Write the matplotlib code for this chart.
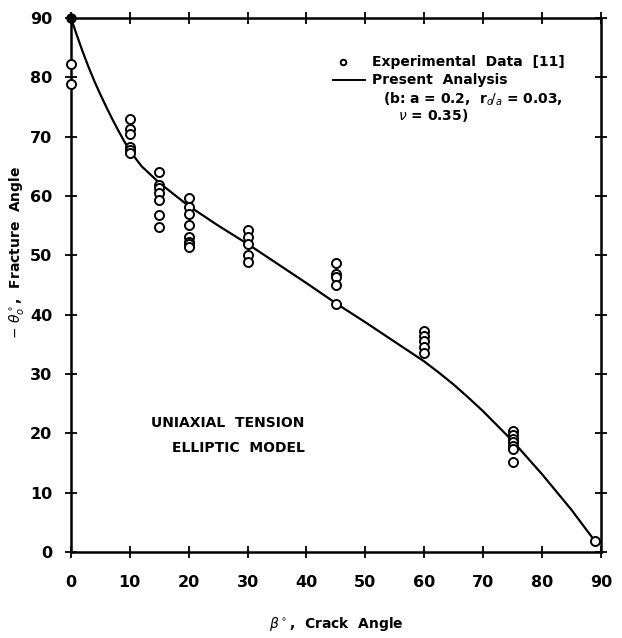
import matplotlib
matplotlib.use("Agg")
import matplotlib.pyplot as plt

# experimental data: crack angle beta (deg) and fracture angle -theta_o (deg)
beta_exp = [0, 0,
            10, 10, 10, 10, 10, 10,
            15, 15, 15, 15, 15, 15, 15,
            20, 20, 20, 20, 20, 20, 20, 20,
            30, 30, 30, 30, 30,
            45, 45, 45, 45, 45,
            60, 60, 60, 60, 60,
            75, 75, 75, 75, 75, 75, 75,
            89]
theta_exp = [82.2, 78.9,
             73.0, 71.2, 70.5, 68.3, 67.8, 67.3,
             64.1, 61.9, 61.3, 60.5, 59.3, 56.7, 54.7,
             59.6, 58.2, 56.9, 55.1, 53.1, 52.3, 51.9, 51.3,
             54.2, 53.1, 51.9, 50.1, 48.9,
             48.7, 46.9, 46.4, 44.9, 41.8,
             37.3, 36.3, 35.5, 34.6, 33.5,
             20.3, 19.7, 19.1, 18.5, 17.9, 17.4, 15.1,
             1.8]

# present analysis curve
beta_curve = [0, 1, 2, 3, 4, 5, 6, 7, 8, 9, 10, 12, 15, 20, 25, 30, 35, 40,
              45, 50, 55, 60, 62.5, 65, 67.5, 70, 75, 80, 85, 89]
theta_curve = [90, 87.1, 84.3, 81.7, 79.3, 77.1, 75.0, 73.0, 71.1, 69.3, 67.6,
               65.0, 62.2, 58.3, 55.0, 51.9, 48.6, 45.3, 41.9, 38.7, 35.4,
               32.1, 30.2, 28.2, 26.0, 23.7, 18.7, 13.1, 7.1, 1.8]

ticks = list(range(0, 91, 10))

plt.rcParams["font.family"] = ["DejaVu Sans"]
plt.rcParams["mathtext.fontset"] = "dejavusans"

fig = plt.figure(figsize=(6.22, 6.38), dpi=100)
ax = fig.add_axes([0.114, 0.135, 0.852, 0.837])

ax.plot(beta_curve, theta_curve, color="black", lw=1.6, clip_on=False)
ax.plot(beta_exp, theta_exp, "o", mfc="white", mec="black", ms=6.5, mew=1.4,
        clip_on=False, zorder=3)
ax.plot([0], [90], "o", color="black", ms=6.5, clip_on=False, zorder=4)

ax.set_xlim(0, 90)
ax.set_ylim(0, 90)
ax.set_xticks(ticks)
ax.set_yticks(ticks)
ax.tick_params(direction="inout", length=9, width=1.3, top=True, right=True,
               labelsize=11.5)
ax.tick_params(axis="x", pad=12)
ax.tick_params(axis="y", pad=9)
for lab in ax.get_xticklabels() + ax.get_yticklabels():
    lab.set_fontweight("bold")
for sp in ax.spines.values():
    sp.set_linewidth(1.8)

ax.set_xlabel(r"$\beta^\circ$,  Crack  Angle", fontsize=10, fontweight="bold",
              labelpad=18)
ax.set_ylabel(r"$-\ \theta_o^\circ$,  Fracture  Angle", fontsize=10,
              fontweight="bold", labelpad=3, y=0.56)

# legend drawn as text, as in the original
ax.plot([46.2], [82.6], "o", mfc="white", mec="black", ms=4, mew=1.4)
ax.plot([44.5, 50.0], [79.6, 79.6], color="black", lw=1.4)
ax.text(51.2, 82.6, "Experimental  Data  [11]", fontsize=10, fontweight="bold",
        va="center")
ax.text(51.2, 79.6, "Present  Analysis", fontsize=10, fontweight="bold",
        va="center")
ax.text(53.0, 76.2, r"(b: a = 0.2,  r$_{o}\!/_{a}$ = 0.03,", fontsize=10,
        fontweight="bold", va="center")
ax.text(55.5, 73.6, r"$\nu$ = 0.35)", fontsize=10, fontweight="bold",
        va="center")

ax.text(26.6, 21.8, "UNIAXIAL  TENSION", fontsize=10, fontweight="bold",
        ha="center", va="center")
ax.text(28.5, 17.5, "ELLIPTIC  MODEL", fontsize=10, fontweight="bold",
        ha="center", va="center")

fig.savefig("out.png", dpi=100)
